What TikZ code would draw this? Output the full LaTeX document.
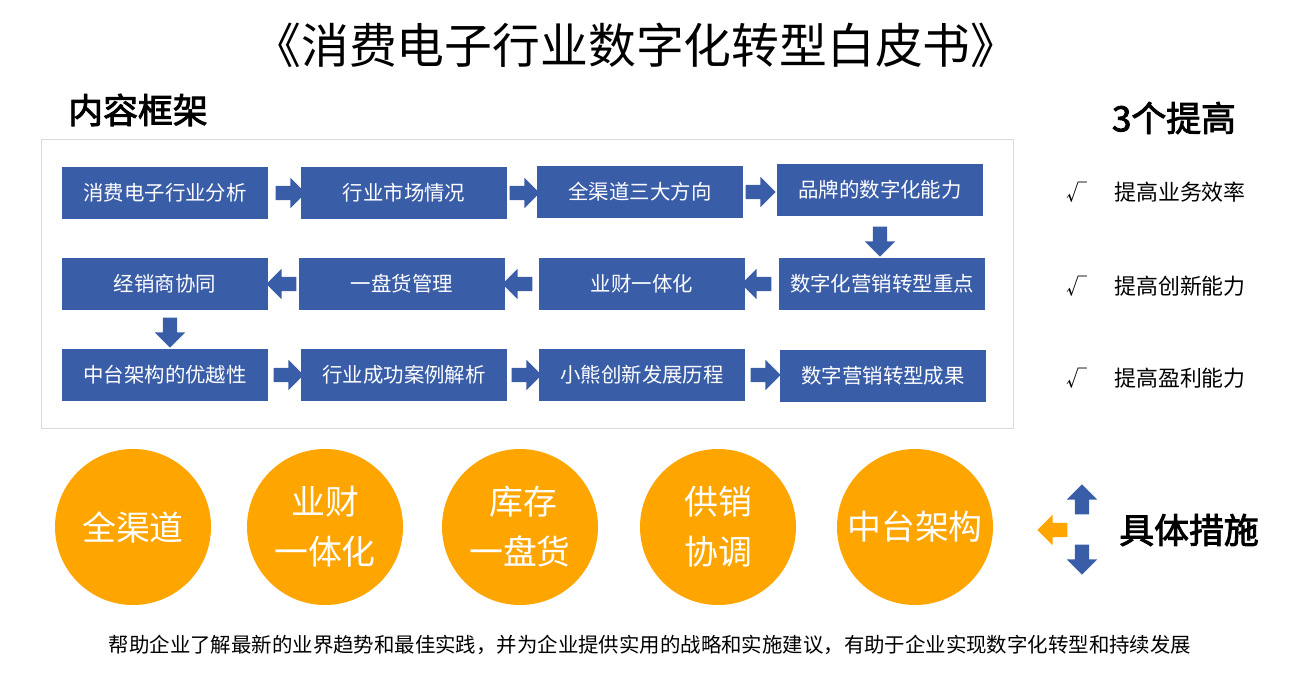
\documentclass[tikz,border=0pt]{standalone}
\usepackage{fontspec}
\setmainfont{Noto Sans CJK SC}[AutoFakeBold=2.5]
\usetikzlibrary{shapes.arrows}
\usetikzlibrary{positioning}
\definecolor{boxblue}{HTML}{3A5DA8}
\definecolor{ringorange}{HTML}{FFA500}
\begin{document}
\begin{tikzpicture}[x=1bp, y=-1bp]
	\tikzstyle{stage}=[rectangle, fill=boxblue, text=white, minimum width=206bp,
	                  minimum height=52bp, inner sep=0pt, font=\fontsize{20.5}{20.5}\selectfont];
	\tikzstyle{blk}=[single arrow, fill=boxblue, minimum height=30bp, inner sep=7bp,
	                 single arrow head extend=8bp, single arrow head indent=0pt];
	\tikzstyle{disc}=[circle, fill=ringorange, text=white, minimum size=156bp, inner sep=0pt,
	                  font=\fontsize{34}{50}\selectfont, align=center];
	\useasboundingbox (0,0) rectangle (1305,676);
	\node at (636,45) {\fontsize{48}{48}\selectfont 《消费电子行业数字化转型白皮书》};
	\node at (138,110) {\fontsize{35}{35}\selectfont\bfseries 内容框架};
	\node at (1174,118) {\fontsize{35}{35}\selectfont\bfseries 3个提高};
	\draw[black!15] (41,139) rectangle (1013,428);
	% stages
	\node[stage] (s1) at (165,193) {消费电子行业分析};
	\node[stage] (s2) at (404,193) {行业市场情况};
	\node[stage] (s3) at (640,192) {全渠道三大方向};
	\node[stage] (s4) at (880,190) {品牌的数字化能力};
	\node[stage] (s5) at (882,284) {数字化营销转型重点};
	\node[stage] (s6) at (642,284) {业财一体化};
	\node[stage] (s7) at (402,284) {一盘货管理};
	\node[stage] (s8) at (165,284) {经销商协同};
	\node[stage] (s9) at (165,375) {中台架构的优越性};
	\node[stage] (s10) at (404,375) {行业成功案例解析};
	\node[stage] (s11) at (642,375) {小熊创新发展历程};
	\node[stage] (s12) at (883,376) {数字营销转型成果};
	\node[blk] (a1) at (287,193) {};
	\node[blk] (a2) at (521,193) {};
	\node[blk] (a3) at (757,192) {};
	\node[blk, rotate=-90] (a4) at (880,238) {};
	\node[blk, rotate=180] (a5) at (760,284) {};
	\node[blk, rotate=180] (a6) at (521,284) {};
	\node[blk, rotate=180] (a7) at (285,284) {};
	\node[blk, rotate=-90] (a8) at (170,329) {};
	\node[blk] (a9) at (285,375) {};
	\node[blk] (a10) at (523,375) {};
	\node[blk] (a11) at (762,375) {};
	% checks
	\foreach \y/\t [count=\k] in {192/提高业务效率, 286/提高创新能力, 378/提高盈利能力}
	{\node[font=\fontsize{21}{21}\selectfont] (k\k) at (1077,\y) {√};
	 \node[font=\fontsize{22}{22}\selectfont] (t\k) at (1180,\y) {\t};}
	% discs
	\node[disc] (c1) at (133,527) {全渠道};
	\node[disc] (c2) at (325,527) {业财\\一体化};
	\node[disc] (c3) at (520,527) {\ 库存\\一盘货};
	\node[disc] (c4) at (718,527) {供销\\协调};
	\node[disc] (c5) at (915,527) {中台架构};
	\node[blk, rotate=90] (u) at (1082,503) {};
	\node[blk, rotate=-90] (d) at (1082,556) {};
	\node[blk, rotate=180, fill=ringorange] (l) at (1056,530) {};
	\node[font=\fontsize{35}{35}\selectfont\bfseries] (m) at (1189,530) {具体措施};
	\node[font=\fontsize{20.5}{20.5}\selectfont] at (650,645)
	  {帮助企业了解最新的业界趋势和最佳实践，并为企业提供实用的战略和实施建议，有助于企业实现数字化转型和持续发展};
\end{tikzpicture}
\end{document}
